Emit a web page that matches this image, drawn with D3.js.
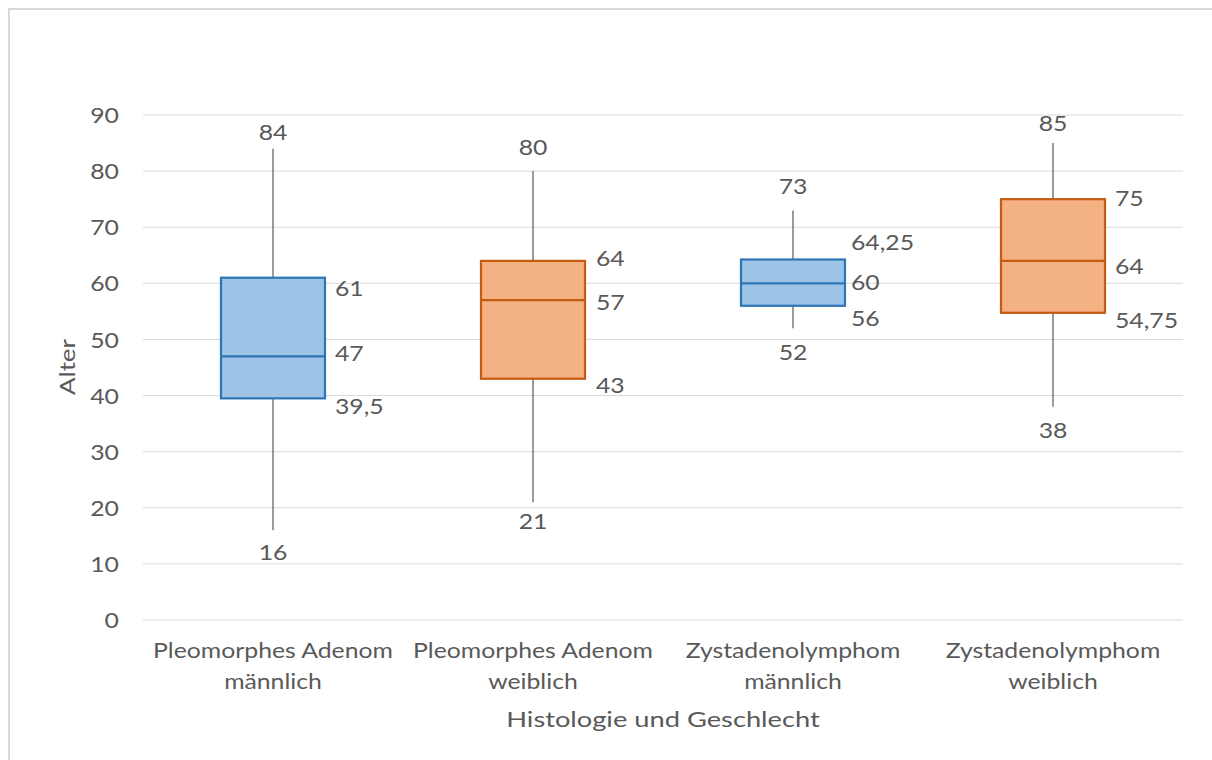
<!DOCTYPE html>
<html>
<head>
<meta charset="utf-8">
<script src="https://cdn.jsdelivr.net/npm/d3@7"></script>
<style>
  html, body { margin: 0; padding: 0; background: #fff; }
  svg { display: block; }
  text { font-family: Lato, "Open Sans", sans-serif; fill: #595959; }
</style>
</head>
<body>
<svg id="chart" width="1212" height="760"></svg>
<script>
// Age distribution per histology and sex (five-number summary)
const categories = [
  ["Pleomorphes Adenom", "männlich"],
  ["Pleomorphes Adenom", "weiblich"],
  ["Zystadenolymphom", "männlich"],
  ["Zystadenolymphom", "weiblich"]
];
const minValues    = [16, 21, 52, 38];
const q1Values     = [39.5, 43, 56, 54.75];
const medianValues = [47, 57, 60, 64];
const q3Values     = [61, 64, 64.25, 75];
const maxValues    = [84, 80, 73, 85];
const sexes        = ["m", "w", "m", "w"];
const yTicks       = [0, 10, 20, 30, 40, 50, 60, 70, 80, 90];

// vertical nudges (px) for the value labels so they do not collide
const labelNudge = {
  max:    [-16, -24, -24, -20],
  q3:     [11, -2, -17, -1],
  median: [-3, 2, -1, 6],
  q1:     [8, 7, 13, 8],
  min:    [22, 19, 24, 24]
};
const sideGap = [10, 11, 6, 10];

const fills   = { m: "#9dc3e6", w: "#f4b183" };
const strokes = { m: "#2e75b6", w: "#c55a11" };
const fmt = v => String(v).replace(".", ",");

const FONT = 21;      // label font size
const WIDE = 1.18;    // horizontal stretch of the lettering
const CAP = 7.6;      // half cap height, to centre digits on a value

const svg = d3.select("#chart");

// place a horizontally stretched text at (x, y) baseline
function label(parent, x, y, str, anchor = "middle", size = FONT, sx = WIDE, rot = 0) {
  return parent.append("text")
    .attr("transform", `translate(${x},${y}) rotate(${rot}) scale(${sx},1)`)
    .attr("text-anchor", anchor)
    .attr("font-size", size)
    .text(str);
}

// outer chart frame
svg.append("rect")
  .attr("x", 9).attr("y", 9)
  .attr("width", 1212).attr("height", 760)
  .attr("fill", "none").attr("stroke", "#d9d9d9").attr("stroke-width", 2);

const x = d3.scaleBand().domain(d3.range(categories.length)).range([143, 1183]);
const y = d3.scaleLinear().domain([0, 90]).range([620, 115]);

// horizontal gridlines
svg.append("g").selectAll("line").data(yTicks).join("line")
  .attr("x1", 143).attr("x2", 1183)
  .attr("y1", d => y(d)).attr("y2", d => y(d))
  .attr("stroke", "#d9d9d9").attr("stroke-width", 1);

// y axis labels
const yAxis = svg.append("g")
  .attr("transform", "translate(119,0)")
  .call(d3.axisLeft(y).tickValues(yTicks).tickSize(0).tickPadding(0));
yAxis.select(".domain").remove();
yAxis.selectAll("text")
  .attr("font-size", FONT).attr("fill", "#595959")
  .attr("x", null).attr("dy", null)
  .attr("transform", `translate(0,${CAP}) scale(${WIDE},1)`)
  .style("font-family", "Lato, sans-serif");

// category labels (two lines)
const xAxis = svg.append("g")
  .attr("transform", "translate(0,620)")
  .call(d3.axisBottom(x).tickSize(0).tickFormat(""));
xAxis.select(".domain").remove();
xAxis.selectAll(".tick").each(function (d) {
  const t = d3.select(this);
  label(t, 0, 38, categories[d][0]);
  label(t, 0, 69, categories[d][1]);
});

// axis titles
label(svg, 663, 727, "Histologie und Geschlecht", "middle", 22, 1.24);
label(svg, 75, 367, "Alter", "middle", 22, 1.18, -90);

const boxW = x.bandwidth() * 0.4;
const g = svg.append("g").selectAll("g").data(d3.range(categories.length)).join("g");
const cx = i => x(i) + x.bandwidth() / 2;

// whiskers
g.append("line")
  .attr("x1", cx).attr("x2", cx)
  .attr("y1", i => y(maxValues[i])).attr("y2", i => y(q3Values[i]))
  .attr("stroke", "#595959").attr("stroke-width", 1.2);
g.append("line")
  .attr("x1", cx).attr("x2", cx)
  .attr("y1", i => y(q1Values[i])).attr("y2", i => y(minValues[i]))
  .attr("stroke", "#595959").attr("stroke-width", 1.2);

// boxes
g.append("rect")
  .attr("x", i => cx(i) - boxW / 2).attr("width", boxW)
  .attr("y", i => y(q3Values[i]))
  .attr("height", i => y(q1Values[i]) - y(q3Values[i]))
  .attr("fill", i => fills[sexes[i]])
  .attr("stroke", i => strokes[sexes[i]]).attr("stroke-width", 2.2);

// medians
g.append("line")
  .attr("x1", i => cx(i) - boxW / 2).attr("x2", i => cx(i) + boxW / 2)
  .attr("y1", i => y(medianValues[i])).attr("y2", i => y(medianValues[i]))
  .attr("stroke", i => strokes[sexes[i]]).attr("stroke-width", 2.2);

// value labels
g.each(function (i) {
  const sel = d3.select(this);
  label(sel, cx(i), y(maxValues[i]) + labelNudge.max[i] + CAP, fmt(maxValues[i]));
  label(sel, cx(i), y(minValues[i]) + labelNudge.min[i] + CAP, fmt(minValues[i]));
  const xr = cx(i) + boxW / 2 + sideGap[i];
  label(sel, xr, y(q3Values[i]) + labelNudge.q3[i] + CAP, fmt(q3Values[i]), "start");
  label(sel, xr, y(medianValues[i]) + labelNudge.median[i] + CAP, fmt(medianValues[i]), "start");
  label(sel, xr, y(q1Values[i]) + labelNudge.q1[i] + CAP, fmt(q1Values[i]), "start");
});
</script>
</body>
</html>
